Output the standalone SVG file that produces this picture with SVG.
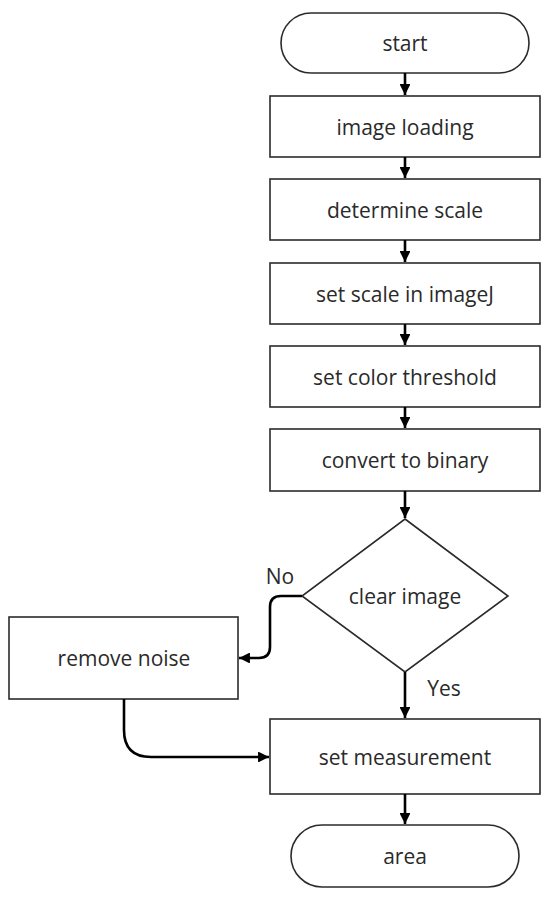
<svg xmlns="http://www.w3.org/2000/svg" width="550" height="897" viewBox="0 0 550 897">
<defs>
<style>
.n{fill:#fff;stroke:#2b2b2b;stroke-width:1.6}
.t{font-family:"Open Sans","Noto Sans","Liberation Sans",sans-serif;font-size:21px;fill:#2a2a2a;text-anchor:middle;dominant-baseline:central}
.c{fill:none;stroke:#000;stroke-width:2.6}
</style>
<marker id="ah" viewBox="0 0 10 10" refX="10" refY="5" markerWidth="4.2" markerHeight="4.2" markerUnits="strokeWidth" orient="auto">
<path d="M0,0 L10,5 L0,10 z" fill="#000"/>
</marker>
</defs>
<rect width="550" height="897" fill="#fff"/>
<g id="start"><rect class="n" x="281" y="13" width="248" height="60" rx="30"/><text class="t" x="405" y="43">start</text></g>
<g id="load"><rect class="n" x="270" y="96" width="270" height="61"/><text class="t" x="405" y="126.5">image loading</text></g>
<g id="det"><rect class="n" x="270" y="179" width="270" height="61"/><text class="t" x="405" y="209.5">determine scale</text></g>
<g id="setscale"><rect class="n" x="270" y="263" width="270" height="61"/><text class="t" x="405" y="293.5">set scale in imageJ</text></g>
<g id="thresh"><rect class="n" x="270" y="346" width="270" height="61"/><text class="t" x="405" y="376.5">set color threshold</text></g>
<g id="binary"><rect class="n" x="270" y="429" width="270" height="62"/><text class="t" x="405" y="460">convert to binary</text></g>
<g id="clear"><polygon class="n" points="405,519 508,596 405,672 302,596"/><text class="t" x="405" y="596">clear image</text></g>
<g id="noise"><rect class="n" x="9" y="617" width="229" height="82"/><text class="t" x="124" y="658">remove noise</text></g>
<g id="measure"><rect class="n" x="270" y="719" width="270" height="75"/><text class="t" x="405" y="756.5">set measurement</text></g>
<g id="area"><rect class="n" x="291" y="825" width="228" height="62" rx="31"/><text class="t" x="405" y="856">area</text></g>
<g id="connectors">
<line class="c" x1="405" y1="73" x2="405" y2="95" marker-end="url(#ah)"/>
<line class="c" x1="405" y1="157" x2="405" y2="178" marker-end="url(#ah)"/>
<line class="c" x1="405" y1="240" x2="405" y2="262" marker-end="url(#ah)"/>
<line class="c" x1="405" y1="324" x2="405" y2="345" marker-end="url(#ah)"/>
<line class="c" x1="405" y1="407" x2="405" y2="428" marker-end="url(#ah)"/>
<line class="c" x1="405" y1="491" x2="405" y2="518" marker-end="url(#ah)"/>
<line class="c" x1="405" y1="672" x2="405" y2="718" marker-end="url(#ah)"/>
<line class="c" x1="405" y1="794" x2="405" y2="824" marker-end="url(#ah)"/>
<path class="c" d="M302,596 H281 Q270,596 270,607 V647 Q270,658 259,658 H239" marker-end="url(#ah)"/>
<path class="c" d="M124,699 V730 Q124,757 151,757 H269" marker-end="url(#ah)"/>
<text class="t" x="280" y="576">No</text>
<text class="t" x="444" y="688">Yes</text>
</g>
</svg>
